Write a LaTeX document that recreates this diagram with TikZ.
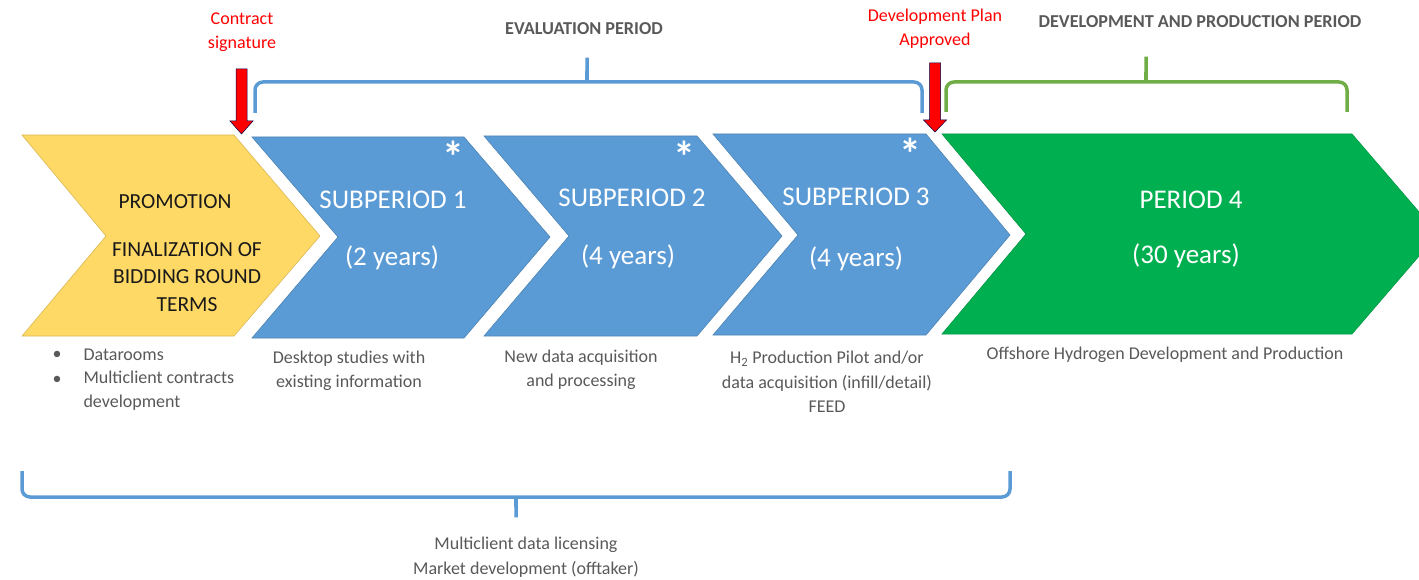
\documentclass[tikz,border=0pt]{standalone}
\usepackage{fontspec}
\setmainfont{Carlito}
\definecolor{promo}{HTML}{FFD966}
\definecolor{evalblue}{HTML}{5B9BD5}
\definecolor{devgreen}{HTML}{00B050}
\definecolor{brgreen}{HTML}{70AD47}
\definecolor{notegray}{HTML}{595959}
\begin{document}
\begin{tikzpicture}[
    x=1pt, y=-1pt,
    chev/.style={draw=#1!85!black, line width=0.6pt, fill=#1},
    title/.style={text=white, font=\fontsize{27}{30}\selectfont},
    promotext/.style={text=black!90, font=\fontsize{21.5}{27.5}\selectfont, align=center},
    astmark/.style={text=white, font=\fontsize{44}{44}\selectfont\bfseries, inner sep=0pt},
    note/.style={text=notegray, font=\fontsize{18}{24.5}\selectfont, align=center},
    head/.style={text=notegray, font=\fontsize{18.2}{20}\selectfont\bfseries},
    event/.style={text=red, font=\fontsize{18}{24}\selectfont, align=center},
    marker/.style={fill=red, draw=blue!30!black, line width=0.5pt},
    brace/.style={draw=#1, line width=3.5pt, rounded corners=8pt}]
  \useasboundingbox (0,0) rectangle (1419,580);

  \draw[chev=promo] (22,135) -- (234,135) -- (320,236) -- (234,336) -- (22,336) -- (106,236) -- cycle;
  \draw[chev=evalblue] (252,137) -- (464,137) -- (550,237) -- (464,338) -- (252,338) -- (338,237) -- cycle;
  \draw[chev=evalblue] (484,136) -- (697,136) -- (782,236) -- (697,336) -- (484,336) -- (569,236) -- cycle;
  \draw[chev=evalblue] (713,134) -- (926,134) -- (1010,235) -- (926,335) -- (713,335) -- (798,235) -- cycle;
  \draw[chev=devgreen] (942,134) -- (1352,134) -- (1438,234) -- (1352,334) -- (942,334) -- (1026,234) -- cycle;

  \node[promotext] (promo) at (175,202) {PROMOTION};
  \node[promotext] (final) at (187,277) {FINALIZATION OF\\BIDDING ROUND\\TERMS};
  \node[title] (sub1) at (393,200) {SUBPERIOD 1};
  \node[title] (yr1) at (392,258) {(2 years)};
  \node[title] (sub2) at (632,198) {SUBPERIOD 2};
  \node[title] (yr2) at (628,257) {(4 years)};
  \node[title] (sub3) at (856,197) {SUBPERIOD 3};
  \node[title] (yr3) at (856,259) {(4 years)};
  \node[title] (per4) at (1191,200) {PERIOD 4};
  \node[title] (yr4) at (1186,256) {(30 years)};
  \node[astmark] (ast1) at (453,157) {*};
  \node[astmark] (ast2) at (684,157) {*};
  \node[astmark] (ast3) at (910,154) {*};

  \foreach \ax/\ay/\hb/\tip in {241.5/69/121/134, 935/63/120/132}
    \draw[marker] (\ax-5.5,\ay) -- (\ax+5.5,\ay) -- (\ax+5.5,\hb) -- (\ax+11.5,\hb)
      -- (\ax,\tip) -- (\ax-11.5,\hb) -- (\ax-5.5,\hb) -- cycle;

  \draw[brace=evalblue] (255,113) -- (255,82) -- (580,82) .. controls (587,82) .. (587,53)
    .. controls (587,82) .. (594,82) -- (922,82) -- (922,113);
  \draw[brace=brgreen] (946,112) -- (946,82) -- (1139,82) .. controls (1146,82) .. (1146,52)
    .. controls (1146,82) .. (1153,82) -- (1347,82) -- (1347,112);
  \draw[brace=evalblue] (22,471) -- (22,497) -- (509,497) .. controls (516,497) .. (516,522)
    .. controls (516,497) .. (523,497) -- (1010,497) -- (1010,471);

  \node[event] (sign) at (242,32) {Contract\\signature};
  \node[event] (plan) at (935,29) {Development Plan\\Approved};
  \node[head] (evalhd) at (584,29) {EVALUATION PERIOD};
  \node[head] (devhd) at (1200,22) {DEVELOPMENT AND PRODUCTION PERIOD};

  \node[note] (b1) at (57,355) {\textbullet};
  \node[note] (b2) at (57,380) {\textbullet};
  \node[note, anchor=west] (datarooms) at (80,355) {Datarooms};
  \node[note, anchor=north west, align=left] (mcc) at (80,367) {Multiclient contracts\\development};
  \node[note] (desk) at (349,371) {Desktop studies with\\existing information};
  \node[note] (newdata) at (581,370) {New data acquisition\\and processing};
  \node[note] (pilot) at (827,382) {H\textsubscript{2} Production Pilot and/or\\data acquisition (infill/detail)\\FEED};
  \node[note] (offshore) at (1165,355) {Offshore Hydrogen Development and Production};
  \node[note] (licensing) at (526,557) {Multiclient data licensing\\Market development (offtaker)};
\end{tikzpicture}
\end{document}
